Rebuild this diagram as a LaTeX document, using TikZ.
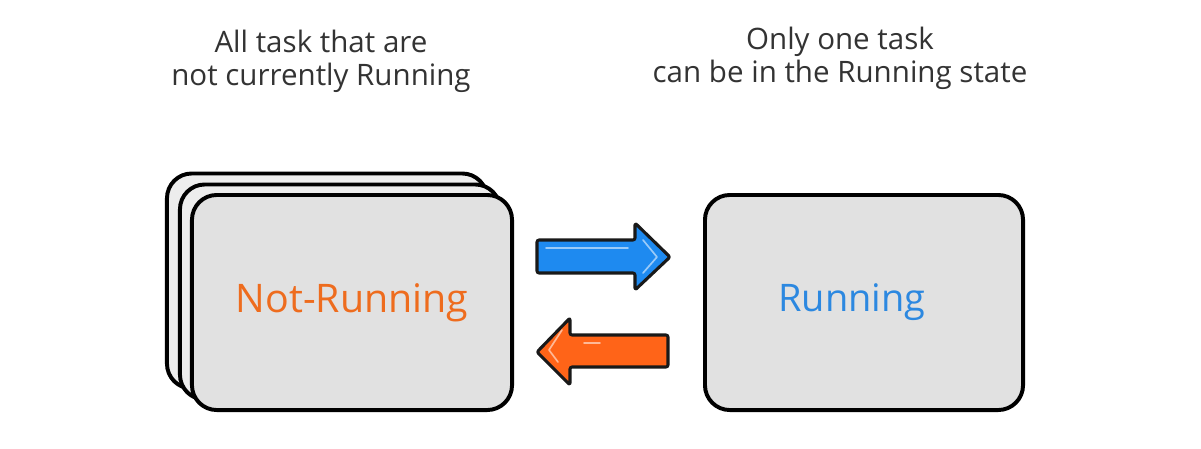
\documentclass[tikz,border=0pt]{standalone}
\usepackage{fontspec}
\setmainfont{Open Sans}
\usepackage{tikz}

\definecolor{cardgray}{HTML}{E1E1E1}
\definecolor{inkgray}{HTML}{333333}
\definecolor{runblue}{HTML}{2C88E0}
\definecolor{notorange}{HTML}{EE6C1E}
\definecolor{arrowblue}{HTML}{1E8AF0}
\definecolor{arroworange}{HTML}{FF6418}

\tikzset{
  card/.style={draw=black,fill=cardgray,line width=2.8pt,rounded corners=0.62cm,
    minimum width=8cm,minimum height=5.375cm,inner sep=0pt},
  stackcard/.style={card,fill=cardgray!60!white},
  fatarrow/.style={draw=black!90,line width=2.2pt,rounded corners=1.5pt,line join=round},
  glint/.style={line width=1.2pt,line cap=round,line join=round},
  note/.style={align=center,text=inkgray,font=\fontsize{21}{23.6}\selectfont}
}

\begin{document}
\begin{tikzpicture}[x=0.025cm,y=-0.025cm]
                \useasboundingbox (0,0) rectangle (1201,448);

                % stack of waiting tasks
                \node[stackcard] (backcard) at (327,281) {};
                \node[stackcard] (midcard) at (340,292) {};
                \node[card] (notrun) at (352,302.5)
                  {\fontsize{28}{30}\selectfont\color{notorange}Not-Running};

                \node[card,minimum width=7.95cm] (run) at (864,302.5)
                  {\fontsize{27}{30}\selectfont\color{runblue}\hspace*{-0.6cm}Running};

                % captions
                \node[note] (notnote) at (321,61) {All task that are\\not currently Running};
                \node[note] (runnote) at (840,58) {Only one task\\can be in the Running state};

                % to running
                \draw[fatarrow,fill=arrowblue] (537,240) -- (635,240) -- (635,223) -- (670,257)
                  -- (635,290) -- (635,273) -- (537,273) -- cycle;
                \draw[glint,draw=arrowblue!45!white] (546,248) -- (628,248);
                \draw[glint,draw=arrowblue!45!white] (643,240) -- (657,257) -- (643,273);

                % back to not running
                \draw[fatarrow,fill=arroworange] (668,335) -- (570,335) -- (570,318) -- (537,352)
                  -- (570,385) -- (570,367) -- (668,367) -- cycle;
                \draw[glint,draw=arroworange!45!white] (562,330) -- (549,350) -- (558,362);
                \draw[glint,draw=arroworange!45!white] (584,343) -- (600,343);
            \end{tikzpicture}
\end{document}
